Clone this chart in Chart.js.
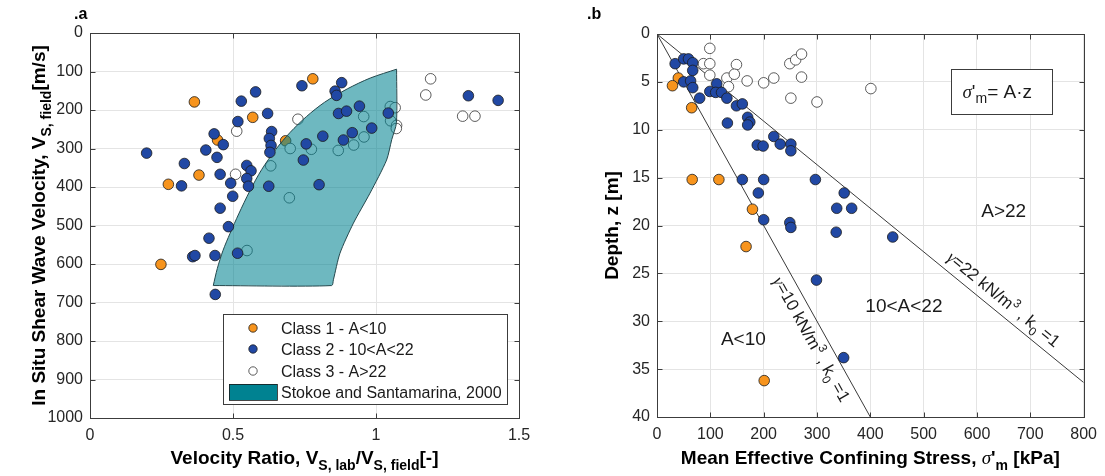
<!DOCTYPE html>
<html>
<head>
<meta charset="utf-8">
<script src="https://cdn.jsdelivr.net/npm/chart.js@4.4.1/dist/chart.umd.min.js"></script>
<style>
html, body { margin: 0; padding: 0; background: #fff; }
#wrap { position: relative; width: 1105px; height: 476px; overflow: hidden; }
canvas { position: absolute; top: 0; }
#chartA { left: 0; }
#chartB { left: 560px; }
</style>
</head>
<body>
<div id="wrap">
  <canvas id="chartA" width="560" height="476"></canvas>
  <canvas id="chartB" width="545" height="476"></canvas>
</div>
<script>
// ---- panel a: velocity ratio vs in situ Vs ----
var ratioTicks = [0, 0.5, 1, 1.5];
var vsTicks = [0, 100, 200, 300, 400, 500, 600, 700, 800, 900, 1000];

var c1Ratio = [0.365, 0.569, 0.779, 0.446, 0.684, 0.381, 0.274, 0.248];
var c1Vs    = [179, 219, 119, 278, 280, 369, 393, 601];

var c2Ratio = [0.198, 0.33, 0.32, 0.405, 0.434, 0.466, 0.444, 0.455, 0.492, 0.499, 0.455, 0.529,
               0.579, 0.517, 0.621, 0.548, 0.563, 0.548, 0.554, 0.635, 0.627, 0.633, 0.629, 0.625,
               0.756, 0.746, 0.814, 0.801, 0.741, 0.88, 0.857, 0.862, 0.869, 0.897, 0.942, 1.043,
               0.917, 0.886, 0.985, 1.323, 1.427, 0.484, 0.416, 0.359, 0.367, 0.437, 0.516, 0.438];
var c2Vs    = [312, 339, 397, 304, 262, 290, 323, 367, 390, 424, 455, 177,
               153, 230, 209, 344, 358, 378, 398, 256, 274, 292, 310, 398,
               288, 330, 268, 394, 137, 129, 151, 162, 209, 203, 190, 208,
               259, 278, 247, 163, 175, 503, 533, 581, 578, 578, 572, 679];

var c3Ratio = [0.513, 0.509, 0.632, 0.697, 0.727, 0.70, 0.774, 0.868, 0.922, 0.957, 0.958,
               1.05, 1.067, 1.051, 1.072, 1.071, 1.191, 1.174, 1.303, 1.346, 0.549];
var c3Vs    = [255, 367, 345, 428, 224, 300, 302, 305, 291, 217, 270,
               191, 194, 228, 240, 248, 119, 161, 216, 216, 565];

// Stokoe and Santamarina (2000) band: upper-left edge and lower-right edge
var stokoeTopRatio = [0.431, 0.445, 0.465, 0.49, 0.52, 0.559, 0.6, 0.65, 0.7, 0.757, 0.82, 0.9, 0.98, 1.072];
var stokoeTopVs    = [656, 612, 565, 520, 470, 410, 355, 302, 258, 217, 180, 145, 117, 94];
var stokoeBotRatio = [0.431, 0.845, 0.851, 0.874, 0.921, 0.979, 1.037, 1.055, 1.0715, 1.072];
var stokoeBotVs    = [656, 656, 641, 572, 494, 416, 330, 277, 233, 94];

// ---- panel b: mean effective stress vs depth ----
var stressTicks = [0, 100, 200, 300, 400, 500, 600, 700, 800];
var depthTicks = [0, 5, 10, 15, 20, 25, 30, 35, 40];

var c1Stress = [40, 29, 65, 66, 116, 179, 167, 201];
var c1Depth  = [4.6, 5.4, 7.7, 15.2, 15.2, 18.3, 22.2, 36.2];

var c2Stress = [34, 50, 59, 67, 67, 50, 63, 67, 80, 99, 112, 110, 121, 131, 149, 160, 132, 170, 174, 170,
                188, 199, 219, 231, 251, 251, 160, 200, 190, 297, 351, 337, 365, 200, 249, 251, 336, 442, 299, 350];
var c2Depth  = [3.1, 2.6, 2.6, 3.0, 3.8, 5.0, 4.9, 5.6, 6.7, 6.0, 5.2, 6.1, 6.1, 6.7, 7.5, 7.3, 9.3, 8.7, 9.2, 9.5,
                11.6, 11.7, 10.7, 11.5, 11.5, 12.2, 15.2, 15.2, 16.6, 15.2, 16.6, 18.2, 18.2, 19.4, 19.7, 20.2, 20.7, 21.2, 25.7, 33.8];

var c3Stress = [87, 99, 99, 99, 131, 134, 149, 145, 169, 200, 219, 249, 260, 271, 271, 251, 300, 401];
var c3Depth  = [3.1, 1.5, 3.1, 4.3, 4.6, 5.5, 3.2, 4.2, 4.9, 5.1, 4.6, 3.1, 2.7, 2.1, 4.5, 6.7, 7.1, 5.7];

var line10Stress = [0, 400];
var line10Depth  = [0, 40];
var line22Stress = [0, 800];
var line22Depth  = [0, 36.4];

// ---- styling ----
var FONT = "'Liberation Sans', Arial, Helvetica, sans-serif";
var SERIF = "'Liberation Serif', 'DejaVu Serif', serif";
var ORANGE = '#F7941D';
var BLUE = '#2148A4';
var EDGE = '#1c1c1c';
var TEXT = '#262626';
var TITLE = 19;

function pts(xs, ys) {
    return xs.map(function(x, i) { return {x: x, y: ys[i]}; });
}

function markers(label, xs, ys, fill, edge, order) {
    return {
        label: label,
        data: pts(xs, ys),
        showLine: false,
        pointRadius: 5.3,
        pointHoverRadius: 5.3,
        pointBackgroundColor: fill,
        pointBorderColor: edge,
        pointBorderWidth: 0.8,
        backgroundColor: fill,
        borderColor: edge,
        order: order
    };
}

function axis(min, max, ticks, reverse, size, isY) {
    return {
        type: 'linear',
        min: min,
        max: max,
        reverse: reverse,
        afterBuildTicks: function(s) { s.ticks = ticks.map(function(v) { return {value: v}; }); },
        afterFit: function(s) { if (isY) { s.width = size; } else { s.height = size; } },
        grid: { color: '#e4e4e4', drawTicks: false },
        border: { display: false },
        ticks: {
            color: TEXT,
            font: { family: FONT, size: 16 },
            padding: isY ? 7 : 8,
            maxRotation: 0,
            autoSkip: false,
            callback: function(v) { return String(v); }
        }
    };
}

// text with sub/superscripts, centred on (x, y)
function drawRich(ctx, parts, x, y, o) {
    var size = o.size || 16;
    var weight = o.bold ? 'bold' : 'normal';
    function font(p) {
        var sz = p.s ? Math.round(size * 0.72) : size;
        return (p.i ? 'italic ' : '') + (p.w || weight) + ' ' + sz + 'px ' + (p.f || FONT);
    }
    ctx.save();
    ctx.translate(x, y);
    if (o.rot) ctx.rotate(o.rot);
    var total = 0;
    parts.forEach(function(p) { ctx.font = font(p); p._w = ctx.measureText(p.t).width; total += p._w; });
    var cx = o.align === 'left' ? 0 : -total / 2;
    var base = (o.dy || 0) + size * 0.36;
    ctx.textAlign = 'left';
    ctx.textBaseline = 'alphabetic';
    ctx.fillStyle = o.color || TEXT;
    parts.forEach(function(p) {
        ctx.font = font(p);
        var dy = p.s === 'sub' ? size * 0.3 : (p.s === 'sup' ? -size * 0.42 : 0);
        ctx.fillText(p.t, cx, base + dy);
        cx += p._w;
    });
    ctx.restore();
}

// MATLAB-like box with inward ticks
var framePlugin = {
    id: 'frame',
    afterDraw: function(chart) {
        var a = chart.chartArea, ctx = chart.ctx, sx = chart.scales.x, sy = chart.scales.y;
        var l = Math.round(a.left) + 0.5, t = Math.round(a.top) + 0.5;
        var r = Math.round(a.right) + 0.5, b = Math.round(a.bottom) + 0.5;
        ctx.save();
        ctx.strokeStyle = '#3c3c3c';
        ctx.lineWidth = 1;
        ctx.strokeRect(l, t, r - l, b - t);
        ctx.beginPath();
        sx.ticks.forEach(function(tk) {
            var p = Math.round(sx.getPixelForValue(tk.value)) + 0.5;
            ctx.moveTo(p, b); ctx.lineTo(p, b - 5);
            ctx.moveTo(p, t); ctx.lineTo(p, t + 5);
        });
        sy.ticks.forEach(function(tk) {
            var p = Math.round(sy.getPixelForValue(tk.value)) + 0.5;
            ctx.moveTo(l, p); ctx.lineTo(l + 5, p);
            ctx.moveTo(r, p); ctx.lineTo(r - 5, p);
        });
        ctx.stroke();
        ctx.restore();
    }
};

function annotate(id, fn) {
    return { id: id, afterDraw: function(chart) { fn(chart, chart.ctx, chart.chartArea, chart.scales.x, chart.scales.y); } };
}

// ---- panel a ----
var stokoeDs = {
    label: 'Stokoe and Santamarina, 2000',
    data: pts(stokoeTopRatio, stokoeTopVs),
    borderColor: '#23474c',
    borderWidth: 1,
    backgroundColor: 'rgba(0,130,145,0.57)',
    fill: '+1',
    pointRadius: 0,
    tension: 0.3,
    order: 1
};
var stokoeEdge = {
    label: 'edge',
    data: pts(stokoeBotRatio, stokoeBotVs),
    borderColor: '#23474c',
    borderWidth: 1,
    fill: false,
    pointRadius: 0,
    tension: 0.25,
    order: 0.5
};

var dsA = [
    markers('Class 1 - A<10', c1Ratio, c1Vs, ORANGE, EDGE, 3),
    markers('Class 2 - 10<A<22', c2Ratio, c2Vs, BLUE, EDGE, 0),
    markers('Class 3 - A>22', c3Ratio, c3Vs, '#ffffff', '#333333', 2),
    stokoeDs,
    stokoeEdge
];

var decorA = annotate('decorA', function(chart, ctx, a) {
    drawRich(ctx, [{t: '.a'}], a.left - 16, 13, {size: 16, bold: true, align: 'left', color: '#000'});
    drawRich(ctx, [{t: 'Velocity Ratio, V'}, {t: 'S, lab', s: 'sub'}, {t: '/V'}, {t: 'S, field', s: 'sub'}, {t: '[-]'}],
             (a.left + a.right) / 2, a.bottom + 39, {size: TITLE, bold: true, color: '#000'});
    drawRich(ctx, [{t: 'In Situ Shear Wave Velocity, V'}, {t: 'S, field', s: 'sub'}, {t: '[m/s]'}],
             a.left - 52, (a.top + a.bottom) / 2, {size: TITLE, bold: true, rot: -Math.PI / 2, color: '#000'});

    // legend box, bottom right of the axes
    var w = 284, h = 90, x = a.right - 12 - w, y = a.bottom - 14 - h;
    ctx.save();
    ctx.fillStyle = '#fff';
    ctx.fillRect(x, y, w, h);
    ctx.strokeStyle = '#3c3c3c';
    ctx.lineWidth = 1;
    ctx.strokeRect(Math.round(x) + 0.5, Math.round(y) + 0.5, w, h);
    var rows = [14, 35, 57, 78];
    [0, 1, 2].forEach(function(i) {
        var ds = dsA[i];
        ctx.beginPath();
        ctx.arc(x + 30, y + rows[i], 4.2, 0, Math.PI * 2);
        ctx.fillStyle = ds.pointBackgroundColor;
        ctx.fill();
        ctx.strokeStyle = ds.pointBorderColor;
        ctx.lineWidth = 0.8;
        ctx.stroke();
        drawRich(ctx, [{t: ds.label}], x + 58, y + rows[i], {size: 16, align: 'left', color: '#1a1a1a'});
    });
    ctx.fillStyle = '#008291';
    ctx.fillRect(x + 6, y + rows[3] - 8, 48, 16);
    ctx.strokeStyle = '#1a1a1a';
    ctx.strokeRect(x + 6.5, y + rows[3] - 7.5, 48, 16);
    drawRich(ctx, [{t: stokoeDs.label}], x + 58, y + rows[3], {size: 16, align: 'left', color: '#1a1a1a'});
    ctx.restore();
});

new Chart(document.getElementById('chartA'), {
    type: 'line',
    data: { datasets: dsA },
    options: {
        responsive: false,
        animation: false,
        layout: { padding: { left: 0, top: 33, right: 41, bottom: 0 } },
        plugins: { legend: { display: false }, tooltip: { enabled: false } },
        scales: {
            x: axis(0, 1.5, ratioTicks, false, 58, false),
            y: axis(0, 1000, vsTicks, true, 90, true)
        }
    },
    plugins: [framePlugin, decorA]
});

// ---- panel b ----
var dsB = [
    markers('Class 1 - A<10', c1Stress, c1Depth, ORANGE, EDGE, 2),
    markers('Class 2 - 10<A<22', c2Stress, c2Depth, BLUE, EDGE, 0),
    markers('Class 3 - A>22', c3Stress, c3Depth, '#ffffff', '#333333', 1),
    { label: 'A=10', data: pts(line10Stress, line10Depth), borderColor: '#3a3a3a', borderWidth: 1, pointRadius: 0, fill: false, order: 5 },
    { label: 'A=22', data: pts(line22Stress, line22Depth), borderColor: '#3a3a3a', borderWidth: 1, pointRadius: 0, fill: false, order: 5 }
];

function lineLabel(ctx, sx, sy, xs, ys, at, off, parts) {
    var x1 = sx.getPixelForValue(xs[0]), y1 = sy.getPixelForValue(ys[0]);
    var x2 = sx.getPixelForValue(xs[1]), y2 = sy.getPixelForValue(ys[1]);
    var ang = Math.atan2(y2 - y1, x2 - x1);
    drawRich(ctx, parts, sx.getPixelForValue(at[0]), sy.getPixelForValue(at[1]), {size: 17, rot: ang, dy: off, color: '#1a1a1a'});
}

var decorB = annotate('decorB', function(chart, ctx, a, sx, sy) {
    drawRich(ctx, [{t: '.b'}], a.left - 70, 13, {size: 16, bold: true, align: 'left', color: '#000'});
    drawRich(ctx, [{t: 'Mean Effective Confining Stress, '}, {t: '\u03c3', i: true, f: SERIF, w: 'normal'}, {t: "'"}, {t: 'm', s: 'sub'}, {t: ' [kPa]'}],
             (a.left + a.right) / 2, a.bottom + 40, {size: TITLE, bold: true, color: '#000'});
    drawRich(ctx, [{t: 'Depth, z [m]'}], a.left - 46, (a.top + a.bottom) / 2, {size: TITLE, bold: true, rot: -Math.PI / 2, color: '#000'});

    // sigma'_m = A z box
    var bx1 = sx.getPixelForValue(551), by1 = sy.getPixelForValue(3.7);
    var bx2 = sx.getPixelForValue(740), by2 = sy.getPixelForValue(8.4);
    ctx.save();
    ctx.fillStyle = '#fff';
    ctx.fillRect(bx1, by1, bx2 - bx1, by2 - by1);
    ctx.strokeStyle = '#3c3c3c';
    ctx.lineWidth = 1;
    ctx.strokeRect(Math.round(bx1) + 0.5, Math.round(by1) + 0.5, Math.round(bx2 - bx1), Math.round(by2 - by1));
    ctx.restore();
    drawRich(ctx, [{t: '\u03c3', i: true, f: SERIF}, {t: "'"}, {t: 'm', s: 'sub'}, {t: '= A\u00b7z'}],
             (bx1 + bx2) / 2 - 4, (by1 + by2) / 2 - 1, {size: 19, color: '#1a1a1a'});

    drawRich(ctx, [{t: 'A>22'}], sx.getPixelForValue(650), sy.getPixelForValue(18.4), {size: 19, color: '#1a1a1a'});
    drawRich(ctx, [{t: '10<A<22'}], sx.getPixelForValue(463), sy.getPixelForValue(28.3), {size: 19, color: '#1a1a1a'});
    drawRich(ctx, [{t: 'A<10'}], sx.getPixelForValue(162), sy.getPixelForValue(31.8), {size: 19, color: '#1a1a1a'});

    lineLabel(ctx, sx, sy, line10Stress, line10Depth, [312, 31.2], 13,
        [{t: '\u03b3', i: true, f: SERIF}, {t: '=10 kN/m'}, {t: '3', s: 'sup'}, {t: ' , k'}, {t: '0', s: 'sub'}, {t: ' =1'}]);
    lineLabel(ctx, sx, sy, line22Stress, line22Depth, [634, 28.8], -14,
        [{t: '\u03b3', i: true, f: SERIF}, {t: '=22 kN/m'}, {t: '3', s: 'sup'}, {t: ' , k'}, {t: '0', s: 'sub'}, {t: ' =1'}]);
});

new Chart(document.getElementById('chartB'), {
    type: 'line',
    data: { datasets: dsB },
    options: {
        responsive: false,
        animation: false,
        layout: { padding: { left: 0, top: 34, right: 19, bottom: 0 } },
        plugins: { legend: { display: false }, tooltip: { enabled: false } },
        scales: {
            x: axis(0, 800, stressTicks, false, 59, false),
            y: axis(0, 40, depthTicks, true, 97, true)
        }
    },
    plugins: [framePlugin, decorB]
});
</script>
</body>
</html>
